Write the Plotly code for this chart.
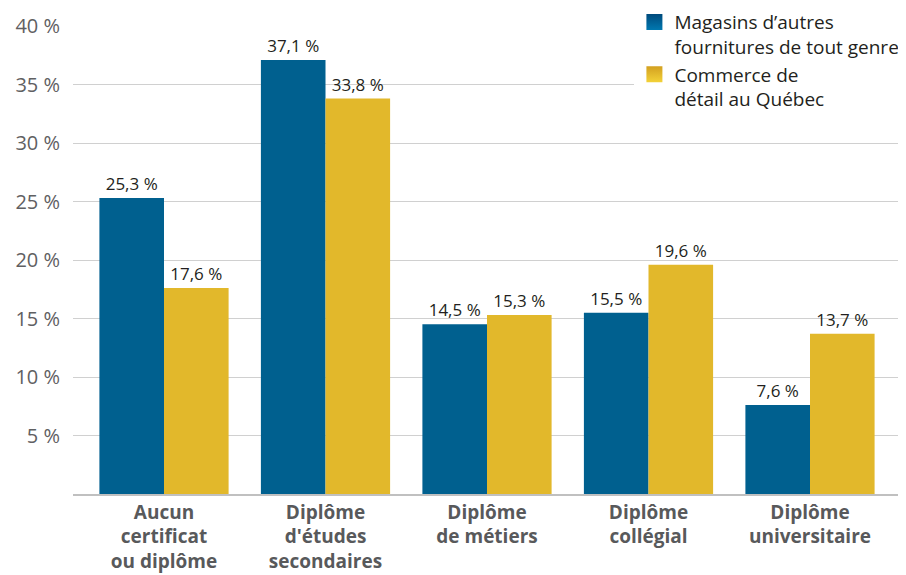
import plotly.graph_objects as go

categories = ["Aucun<br>certificat<br>ou diplôme", "Diplôme<br>d'études<br>secondaires",
              "Diplôme<br>de métiers", "Diplôme<br>collégial", "Diplôme<br>universitaire"]
magasins = [25.3, 37.1, 14.5, 15.5, 7.6]
quebec = [17.6, 33.8, 15.3, 19.6, 13.7]
series_names = ["Magasins d’autres<br>fournitures de tout genre", "Commerce de<br>détail au Québec"]
tick_vals = [5, 10, 15, 20, 25, 30, 35, 40]
tick_text = ["5 %", "10 %", "15 %", "20 %", "25 %", "30 %", "35 %", "40 %"]

BLUE, BLUE_TOP, BLUE_BOT = "#00608f", "#004a7c", "#0078b0"
GOLD, GOLD_TOP, GOLD_BOT = "#e2b82b", "#d3a020", "#f3d238"

FONT = "Open Sans"
xs = list(range(len(categories)))
fig = go.Figure()
fig.add_trace(go.Bar(
    x=xs, y=magasins, name=series_names[0], showlegend=False,
    marker=dict(color=BLUE, line=dict(width=0)),
    texttemplate="%{y:.1f} %", textposition="outside",
    textfont=dict(family=FONT, size=17, color="#231f20"), cliponaxis=False,
))
fig.add_trace(go.Bar(
    x=xs, y=quebec, name=series_names[1], showlegend=False,
    marker=dict(color=GOLD, line=dict(width=0)),
    texttemplate="%{y:.1f} %", textposition="outside",
    textfont=dict(family=FONT, size=17, color="#231f20"), cliponaxis=False,
))
# legend entries with larger square swatches
for name, top, bot in [(series_names[0], BLUE_TOP, BLUE_BOT), (series_names[1], GOLD_TOP, GOLD_BOT)]:
    fig.add_trace(go.Scatter(
        x=[None], y=[None], mode="markers", name=name,
        marker=dict(symbol="square", size=16, color=top,
                    gradient=dict(type="vertical", color=bot), line=dict(width=0)),
    ))

fig.update_layout(
    width=906, height=575,
    margin=dict(l=65, r=0, t=18, b=89, autoexpand=False),
    paper_bgcolor="white", plot_bgcolor="white",
    barmode="group", bargap=0.2, bargroupgap=0,
    separators=", ",
    font=dict(family=FONT, color="#58595b"),
    legend=dict(x=0.6914, y=1.049, xref="container", yref="paper",
                xanchor="left", yanchor="top", valign="top",
                bgcolor="white", font=dict(family=FONT, size=19, color="#231f20"),
                itemwidth=30, itemsizing="trace", tracegroupgap=6, traceorder="normal"),
    xaxis=dict(tickmode="array", tickvals=xs, ticktext=categories,
               range=[-0.5635, 4.644], showgrid=False, zeroline=False, automargin=False,
               showline=True, linecolor="#c0c0c0", linewidth=1.5,
               tickfont=dict(family=FONT, size=19, color="#58595b", weight="bold"),
               ticks=""),
    yaxis=dict(range=[0, 40], tickmode="array", tickvals=tick_vals, ticktext=tick_text,
               showgrid=True, gridcolor="#d0d0d0", gridwidth=1, zeroline=False, automargin=False,
               tickfont=dict(family=FONT, size=20, color="#5f6062"),
               ticks="outside", ticklen=8, tickcolor="white"),
)
fig.write_html("out.html")
